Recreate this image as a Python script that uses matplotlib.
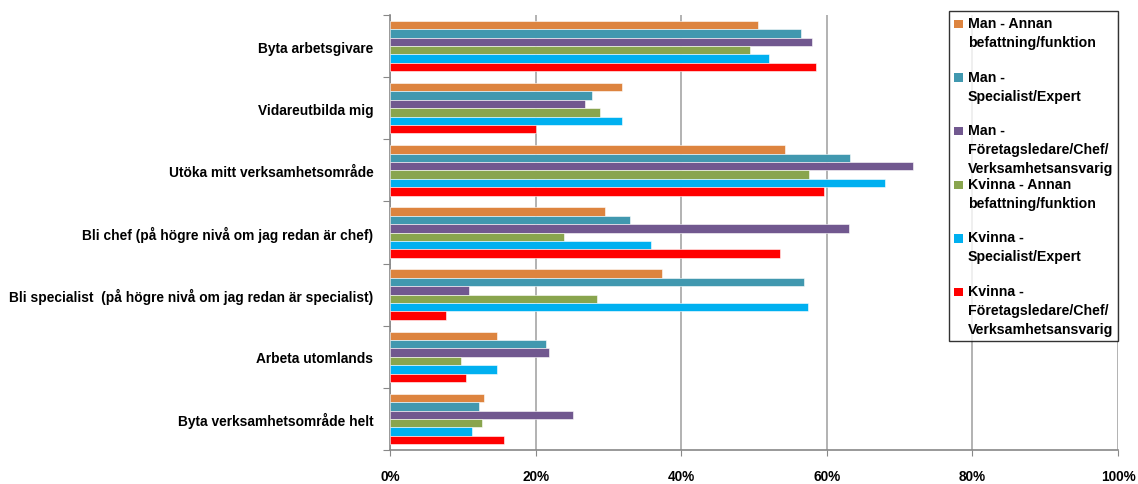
import matplotlib
matplotlib.use('Agg')
import matplotlib.pyplot as plt
import numpy as np
from matplotlib.patches import Patch, Rectangle
from matplotlib.legend_handler import HandlerPatch

plt.rcParams['font.family'] = ['Liberation Sans', 'DejaVu Sans']
plt.rcParams['font.weight'] = 'bold'

categories = ['Byta arbetsgivare',
              'Vidareutbilda mig',
              'Utöka mitt verksamhetsområde',
              'Bli chef (på högre nivå om jag redan är chef)',
              'Bli specialist  (på högre nivå om jag redan är specialist)',
              'Arbeta utomlands',
              'Byta verksamhetsområde helt']

series_names = ['Man - Annan\nbefattning/funktion\n',
                'Man -\nSpecialist/Expert\n',
                'Man -\nFöretagsledare/Chef/\nVerksamhetsansvarig',
                'Kvinna - Annan\nbefattning/funktion\n',
                'Kvinna -\nSpecialist/Expert\n',
                'Kvinna -\nFöretagsledare/Chef/\nVerksamhetsansvarig']

colors = ['#DD843F', '#4198AF', '#71588F', '#89A54E', '#00B0F0', '#FF0000']

# andel i procent, en lista per serie (samma ordning som categories)
man_annan = [50.5, 31.8, 54.3, 29.5, 37.3, 14.7, 12.9]
man_specialist = [56.5, 27.8, 63.2, 33.0, 56.9, 21.4, 12.2]
man_chef = [58.0, 26.8, 71.9, 63.1, 10.9, 21.9, 25.1]
kvinna_annan = [49.5, 28.9, 57.6, 23.9, 28.4, 9.7, 12.7]
kvinna_specialist = [52.0, 31.9, 68.0, 35.9, 57.4, 14.7, 11.2]
kvinna_chef = [58.5, 20.1, 59.6, 53.6, 7.7, 10.5, 15.6]

values = [man_annan, man_specialist, man_chef, kvinna_annan, kvinna_specialist, kvinna_chef]

LEG_FS = 10.2
LEG_LS = 1.45


# fyrkanten i legenden ska stå vid första raden, inte i mitten
def top_square(legend, orig_handle, xdescent, ydescent, width, height, fontsize):
    s = 0.6 * fontsize
    y0 = 0.85 * fontsize * LEG_LS + 0.12 * fontsize
    return Rectangle((-xdescent, y0), s, s)


fig = plt.figure(figsize=(11.38, 4.85), dpi=100)
ax = fig.add_axes([390 / 1138, 34 / 485, 728 / 1138, 435 / 485])

y = np.arange(len(categories))
h = 0.135
for j, vals in enumerate(values):
    ax.barh(y + (j - 2.5) * h, np.array(vals) / 100, height=h, color=colors[j],
            edgecolor='white', linewidth=0.4, zorder=3)

ax.set_xlim(0, 1)
ax.set_ylim(len(categories) - 0.5, -0.5)
ax.set_xticks(np.arange(0, 1.01, 0.2))
ax.set_xticklabels(['%d%%' % v for v in range(0, 101, 20)], fontsize=9.8)
ax.tick_params(axis='x', length=4, color='#888888', pad=10)
ax.grid(axis='x', color='#A6A6A6', linewidth=1.2, zorder=0)

ax.set_yticks(np.arange(-0.5, len(categories), 1))
ax.set_yticklabels([])
ax.set_yticks(y, minor=True)
ax.set_yticklabels(categories, minor=True, fontsize=9.9)
ax.tick_params(axis='y', which='major', length=5, color='#888888')
ax.tick_params(axis='y', which='minor', length=0, pad=12)

for s in ['top', 'right']:
    ax.spines[s].set_visible(False)
for s in ['left', 'bottom']:
    ax.spines[s].set_color('#888888')
    ax.spines[s].set_linewidth(1.2)

handles = [Patch(facecolor=c, edgecolor='none') for c in colors]
leg = fig.legend(handles, series_names, loc='upper right',
                 bbox_to_anchor=(1118 / 1138, 1 - 12 / 485), bbox_transform=fig.transFigure,
                 borderaxespad=0, fontsize=LEG_FS, frameon=True, fancybox=False,
                 handlelength=0.6, handleheight=0.6, handletextpad=0.35,
                 labelspacing=0.12, borderpad=0.35,
                 handler_map={Patch: HandlerPatch(patch_func=top_square)})
for t in leg.get_texts():
    t.set_linespacing(LEG_LS)
leg.get_frame().set_edgecolor('black')
leg.get_frame().set_linewidth(1.0)
leg.set_zorder(5)

plt.savefig('out.png', dpi=100)
